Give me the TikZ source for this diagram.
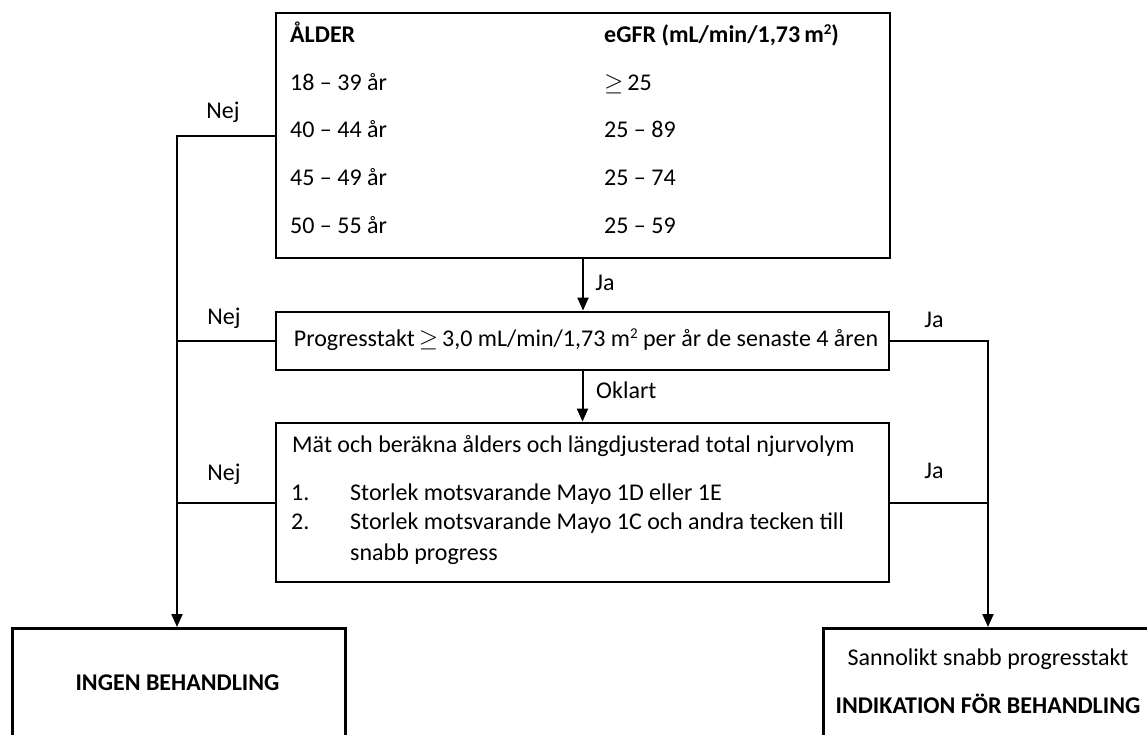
\documentclass[tikz,border=0pt]{standalone}
\usepackage{fontspec}
\setmainfont{Carlito}
\usetikzlibrary{arrows.meta}
\newcommand{\supsmall}[1]{\raisebox{0.33em}{\fontsize{15bp}{15bp}\selectfont #1}}
\begin{document}
\begin{tikzpicture}[x=1bp,y=-1bp,
  font=\fontsize{24bp}{28bp}\selectfont,
  box/.style={draw,line width=2.8bp,inner sep=0pt},
  conn/.style={line width=2bp},
  arr/.style={conn,-{Triangle[length=13bp,width=11bp]}},
  lbl/.style={inner sep=0pt,text height=16bp,text depth=5bp}]
\useasboundingbox (0,0) rectangle (1147,735);
\clip (0,0) rectangle (1147,735);
% boxes
\node[box,minimum width=614bp,minimum height=245bp] (crit) at (583,135.5) {};
\node[box,minimum width=613bp,minimum height=58bp] (prog) at (582.5,341) {};
\node[box,minimum width=613bp,minimum height=159bp] (mat) at (582.5,502.5) {};
\node[box,minimum width=333bp,minimum height=140bp,anchor=north west] (ingen) at (11,627) {};
\node[box,minimum width=345bp,minimum height=140bp,anchor=north west] (indik) at (822,627) {};
% table text
\node[lbl,anchor=west] (hA) at (290,37) {\textbf{ÅLDER}};
\node[lbl,anchor=west] (hE) at (604,37) {\textbf{eGFR (mL/min/1,73\,m\supsmall{2})}};
\node[lbl,anchor=west] (a1) at (290,85) {18 – 39 år};
\node[lbl,anchor=west] (e1) at (604,85) {$\geq$\,25};
\node[lbl,anchor=west] (a2) at (290,132) {40 – 44 år};
\node[lbl,anchor=west] (e2) at (604,132) {25 – 89};
\node[lbl,anchor=west] (a3) at (290,180) {45 – 49 år};
\node[lbl,anchor=west] (e3) at (604,180) {25 – 74};
\node[lbl,anchor=west] (a4) at (290,228) {50 – 55 år};
\node[lbl,anchor=west] (e4) at (604,228) {25 – 59};
% progress text
\node[lbl] (progT) at (586,341) {Progresstakt\,$\geq$\,3,0 mL/min/1,73 m\supsmall{2} per år de senaste 4 åren};
% third box text
\node[lbl,anchor=west] (m0) at (292,447) {Mät och beräkna ålders och längdjusterad total njurvolym};
\node[lbl,anchor=west] (m1n) at (291,495) {1.};
\node[lbl,anchor=west] (m1) at (350,495) {Storlek motsvarande Mayo 1D eller 1E};
\node[lbl,anchor=west] (m2n) at (291,524) {2.};
\node[lbl,anchor=west] (m2) at (350,524) {Storlek motsvarande Mayo 1C och andra tecken till};
\node[lbl,anchor=west] (m3) at (350,555) {snabb progress};
% bottom texts
\node[lbl] (ingenT) at (177.5,685) {\textbf{INGEN BEHANDLING}};
\node[lbl] (indT1) at (988,660) {Sannolikt snabb progresstakt};
\node[lbl] (indT2) at (988,708) {\textbf{INDIKATION FÖR BEHANDLING}};
% connectors
\coordinate (L) at (177,136);
\coordinate (R) at (988,343);
\draw[arr] (crit.west |- L) -- (L) -- (ingen.north -| L);
\draw[conn] (prog.west) -- (prog.west -| L);
\draw[conn] (mat.west) -- (mat.west -| L);
\draw[arr] (prog.east) -- (prog.east -| R) -- (indik.north -| R);
\draw[conn] (mat.east) -- (mat.east -| R);
\draw[arr] (crit.south) -- (crit.south |- prog.north);
\draw[arr] (prog.south) -- (prog.south |- mat.north);
% labels
\node[lbl] (n1) at (223,113) {Nej};
\node[lbl] (n2) at (224,319) {Nej};
\node[lbl] (n3) at (224,475) {Nej};
\node[lbl] (j1) at (605,285) {Ja};
\node[lbl,anchor=west] (ok) at (596,393) {Oklart};
\node[lbl] (j2) at (934,322) {Ja};
\node[lbl] (j3) at (934,473) {Ja};
\end{tikzpicture}
\end{document}
